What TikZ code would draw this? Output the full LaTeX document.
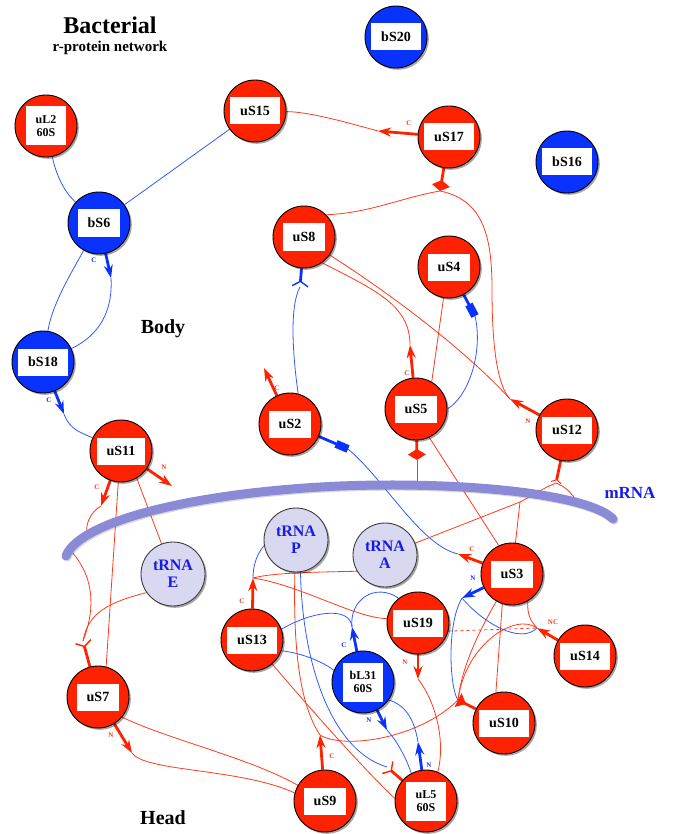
\documentclass[tikz,border=0pt]{standalone}
\usepackage{fontspec}
\setmainfont{Liberation Serif}
\usetikzlibrary{arrows.meta,shadows}
\definecolor{pred}{HTML}{FF2200}
\definecolor{lred}{HTML}{FF3A1A}
\definecolor{pblue}{HTML}{0A32FF}
\definecolor{lblue}{HTML}{2E5BFF}
\definecolor{tfill}{HTML}{D8D8F0}
\definecolor{tdraw}{HTML}{3C3C3C}
\definecolor{tblue}{HTML}{1A1AE6}
\definecolor{mrnacol}{HTML}{8A8AD6}
\pgfdeclarelayer{edges}
\pgfdeclarelayer{rna}
\pgfsetlayers{edges,rna,main}
\newcommand\mkprot[4]{\node[#4] (#1) at (#2) {};\node[lab] at (#1) {#3};}
\newcommand\mkprotII[4]{\node[#4] (#1) at (#2) {};\node[labII] at (#1) {#3};}
\begin{document}
\begin{tikzpicture}[x=1pt,y=-1pt,
  pcirc/.style={circle,draw=black,line width=0.9pt,minimum size=62pt,inner sep=0pt,
     drop shadow={shadow xshift=1.8pt,shadow yshift=-1.8pt,opacity=0.35,fill=black}},
  redp/.style={pcirc,fill=pred},
  bluep/.style={pcirc,fill=pblue},
  trna/.style={pcirc,fill=tfill,draw=tdraw,minimum size=64pt,text=tblue,align=center,
     font=\fontsize{16}{17}\selectfont\bfseries},
  lab/.style={fill=white,inner xsep=10pt,inner ysep=0pt,minimum height=27pt,
     font=\fontsize{14}{14}\selectfont\bfseries},
  labII/.style={fill=white,inner xsep=3pt,inner ysep=0pt,minimum height=39pt,minimum width=40pt,
     align=center,font=\fontsize{12}{13}\selectfont\bfseries},
  rl/.style={draw=lred,line width=0.8pt},
  bl/.style={draw=lblue,line width=0.8pt},
  rstub/.style={draw=pred,line width=2.8pt,-{Stealth[length=13pt,width=9pt]}},
  bstub/.style={draw=pblue,line width=2.8pt,-{Stealth[length=13pt,width=9pt]}},
  rbarb/.style={draw=pred,line width=2.8pt,-{Straight Barb[reversed,length=5pt,width=16pt,line width=1.4pt]}},
  bbarb/.style={draw=pblue,line width=2.8pt,-{Straight Barb[reversed,length=5pt,width=16pt,line width=1.4pt]}},
  rdiam/.style={draw=pred,line width=2.8pt,-{Turned Square[length=11pt,width=18pt]}},
  brect/.style={draw=pblue,line width=2.8pt,-{Rectangle[length=13pt,width=8pt]}},
  rtri/.style={draw=pred,line width=2.8pt,-{Triangle[reversed,length=9pt,width=15pt]}},
  rfork/.style={draw=pred,line width=2.8pt,-{Straight Barb[reversed,length=3pt,width=10pt,line width=0.9pt]}},
  tl/.style={inner sep=0pt,text=lred,font=\fontsize{7}{7}\selectfont\bfseries},
  tlb/.style={inner sep=0pt,text=pblue,font=\fontsize{7}{7}\selectfont\bfseries},
  big/.style={inner sep=0pt,font=\fontsize{#1}{#1}\selectfont\bfseries}
]
\useasboundingbox (0,0) rectangle (675,834);

% titles
\node[big=24] (t1) at (110,25) {Bacterial};
\node[big=15] (t2) at (110,48) {r-protein network};
\node[big=20] (body) at (163,329) {Body};
\node[big=20] (head) at (163,818) {Head};
\node[big=17,text=tblue] (mrnalab) at (630,493) {mRNA};

% proteins
\mkprotII{uL2}{46,126}{uL2\\60S}{redp}
\mkprot{uS15}{255,111}{uS15}{redp}
\mkprot{bS6}{99,223}{bS6}{bluep}
\mkprot{bS20}{396,37}{bS20}{bluep}
\mkprot{uS17}{449,137}{uS17}{redp}
\mkprot{bS16}{567,162}{bS16}{bluep}
\mkprot{uS8}{304,237}{uS8}{redp}
\mkprot{uS4}{449,267}{uS4}{redp}
\mkprot{bS18}{43,362}{bS18}{bluep}
\mkprot{uS11}{121,451}{uS11}{redp}
\mkprot{uS2}{290,424}{uS2}{redp}
\mkprot{uS5}{416,409}{uS5}{redp}
\mkprot{uS12}{567,430}{uS12}{redp}
\node[trna] (tRNAP) at (296,540) {\bfseries tRNA\\\bfseries P};
\node[trna] (tRNAA) at (385,555) {\bfseries tRNA\\\bfseries A};
\node[trna] (tRNAE) at (173,574) {\bfseries tRNA\\\bfseries E};
\mkprot{uS3}{512,574}{uS3}{redp}
\mkprot{uS13}{252,640}{uS13}{redp}
\mkprot{uS19}{418,623}{uS19}{redp}
\mkprot{uS14}{585,656}{uS14}{redp}
\mkprotII{bL31}{363,682}{bL31\\60S}{bluep}
\mkprot{uS10}{504,723}{uS10}{redp}
\mkprotII{uL5}{426,801}{uL5\\60S}{redp}
\mkprot{uS7}{98,697}{uS7}{redp}
\mkprot{uS9}{325,801}{uS9}{redp}

% stub tips and junctions
\coordinate (bS6C) at (111,278);
\coordinate (bS18C) at (64,414);
\coordinate (uS17C) at (378,131);
\coordinate (J17) at (440,191);
\coordinate (J12N) at (510,399);
\coordinate (uS5C) at (410,345);
\coordinate (uS4R) at (475,316);
\coordinate (uS8B) at (300,287);
\coordinate (uS2C) at (264,368);
\coordinate (uS2R) at (348,449);
\coordinate (uS3C) at (458,554);
\coordinate (uS5D) at (417,460);
\coordinate (m5) at (417,487);
\coordinate (J12) at (556,483);
\coordinate (P12) at (520,502);
\coordinate (m12) at (577,501);
\coordinate (uS11C) at (101,506);
\coordinate (m11) at (88,534);
\coordinate (uS11N) at (172,486);
\coordinate (uS7B) at (83,641);
\coordinate (mL) at (72,552);
\coordinate (uS7N) at (132,753);
\coordinate (uS9C) at (320,735);
\coordinate (J10) at (458,700);
\coordinate (uS14NC) at (537,628);
\coordinate (uS3N) at (462,598);
\coordinate (uS19N) at (418,679);
\coordinate (uS13C) at (253,578);
\coordinate (bL31C) at (352,627);
\coordinate (uL5B) at (387,767);
\coordinate (bL31N) at (387,730);
\coordinate (uL5N) at (418,742);

% mRNA
\begin{pgfonlayer}{rna}
\draw[line width=9pt,line cap=round,draw=black,opacity=0.15,xshift=1.2pt,yshift=-1.2pt]
  (66,556) .. controls (80,520) and (200,492) .. (340,486) .. controls (470,481) and (590,495) .. (613,519);
\draw[line width=9pt,line cap=round,draw=mrnacol]
  (66,556) .. controls (80,520) and (200,492) .. (340,486) .. controls (470,481) and (590,495) .. (613,519);
\end{pgfonlayer}

\begin{pgfonlayer}{edges}
% blue top-left
\draw[bl] (uL2) .. controls (55,170) and (62,190) .. (bS6);
\draw[bl] (uS15) -- (bS6);
\draw[bstub] (bS6) -- (bS6C);
\draw[bl] (bS6C) .. controls (113,310) and (100,335) .. (bS18);
\draw[bl] (bS6) .. controls (70,275) and (52,305) .. (bS18);
\draw[bstub] (bS18) -- (bS18C);
\draw[bl] (bS18C) .. controls (70,430) and (80,432) .. (uS11);
% uS17
\draw[rstub] (uS17) -- (uS17C);
\draw[rl] (uS17C) .. controls (345,122) and (310,112) .. (uS15);
\draw[rdiam] (uS17) -- (J17);
\draw[rl] (J17) .. controls (400,198) and (370,213) .. (uS8.45);
\draw[rl] (J17) .. controls (485,200) and (492,240) .. (492,290) .. controls (492,345) and (497,385) .. (J12N);
% uS8, uS12
\draw[rstub] (uS12) -- (J12N);
\draw[rl] (uS8.-35) .. controls (400,300) and (470,355) .. (J12N);
\draw[rl] (uS8.-55) .. controls (375,290) and (410,305) .. (uS5C);
\draw[rstub] (uS5) -- (uS5C);
% uS4
\draw[brect] (uS4) -- (uS4R);
\draw[bl] (uS4R) .. controls (483,350) and (470,395) .. (uS5.east);
\draw[rl] (uS4.-100) -- (uS5.60);
% uS2
\draw[bbarb] (uS8) -- (uS8B);
\draw[bl] (uS2.75) .. controls (292,350) and (290,305) .. (uS8B);
\draw[rstub] (uS2) -- (uS2C);
\draw[brect] (uS2) -- (uS2R);
\draw[bl] (uS2R) .. controls (385,480) and (420,545) .. (uS3C);
\draw[rstub] (uS3) -- (uS3C);
% uS5
\draw[rdiam] (uS5) -- (uS5D);
\draw[rl] (uS5D) -- (m5);
\draw[rl] (uS5.-65) -- (uS3.115);
% uS12 lower
\draw[rfork] (uS12) -- (J12);
\draw[rl] (J12) .. controls (545,487) and (530,497) .. (P12);
\draw[rl] (J12) .. controls (566,487) and (570,492) .. (m12);
\draw[rl] (P12) -- (tRNAA);
\draw[rl] (P12) -- (uS3);
% uS11
\draw[rstub] (uS11) -- (uS11C);
\draw[rl] (uS11C) .. controls (90,512) and (84,527) .. (m11);
\draw[rstub] (uS11) -- (uS11N);
\draw[rl] (uS11.-95) -- (uS7.75);
\draw[rl] (uS11.-60) -- (tRNAE);
% uS7
\draw[rbarb] (uS7) -- (uS7B);
\draw[rl] (mL) .. controls (92,575) and (97,605) .. (uS7B);
\draw[rl] (tRNAE.-145) .. controls (110,602) and (88,612) .. (uS7B);
\draw[rstub] (uS7) -- (uS7N);
\draw[rl] (uS7N) .. controls (145,772) and (240,768) .. (uS9.165);
\draw[rl] (uS7.-40) .. controls (170,740) and (250,758) .. (uS9.150);
% uS9
\draw[rstub] (uS9) -- (uS9C);
\draw[rl] (tRNAP.-92) .. controls (293,650) and (300,705) .. (uS9C);
\draw[bl] (tRNAP.-82) .. controls (302,660) and (330,750) .. (uL5B);
\draw[rl] (uS9C) .. controls (345,750) and (420,738) .. (J10);
% uS10, uS3, uS14
\draw[rtri] (uS10) -- (J10);
\draw[rl] (uS3.-120) .. controls (480,630) and (462,665) .. (J10);
\draw[rl] (uS3.-108) -- (uS10.105);
\draw[rstub] (uS14) -- (uS14NC);
\draw[rl] (J10) .. controls (465,645) and (515,612) .. (uS14NC);
\draw[rl] (uS3.-60) .. controls (527,617) and (532,622) .. (uS14NC);
\draw[rl,dashed] (uS19.-15) -- (uS14NC);
\draw[bstub] (uS3) -- (uS3N);
\draw[bl] (uS3N) .. controls (482,622) and (520,645) .. (uS14NC);
\draw[bl] (uS3N) .. controls (446,625) and (450,690) .. (J10);
% uS19
\draw[rstub] (uS19) -- (uS19N);
\draw[rl] (uS19N) .. controls (438,705) and (445,745) .. (uL5.68);
% uS13
\draw[rstub] (uS13) -- (uS13C);
\draw[rl] (uS13C) .. controls (275,572) and (330,572) .. (tRNAA.-150);
\draw[rl] (uS13C) .. controls (300,585) and (355,618) .. (uS19.172);
\draw[bl] (tRNAP.-170) .. controls (256,555) and (253,567) .. (uS13C);
\draw[bl] (uS13.20) .. controls (310,612) and (350,605) .. (bL31C);
\draw[bstub] (bL31) -- (bL31C);
\draw[bl] (bL31C) .. controls (349,600) and (375,582) .. (uS19.128);
\draw[bl] (uS13.-20) .. controls (300,653) and (320,660) .. (bL31.158);
\draw[rl] (uS13.-50) .. controls (320,720) and (365,770) .. (uL5.175);
% uL5, bL31
\draw[rbarb] (uL5) -- (uL5B);
\draw[bstub] (bL31) -- (bL31N);
\draw[bstub] (uL5) -- (uL5N);
\draw[bl] (bL31N) .. controls (398,742) and (407,760) .. (uL5.118);
\draw[bl] (uL5N) .. controls (414,718) and (405,705) .. (bL31.-35);
\end{pgfonlayer}

% terminus labels
\node[tlb] (lc1) at (94,260) {C};
\node[tlb] (lc2) at (49,400) {C};
\node[tl] (lc3) at (409,123) {C};
\node[tl] (lc4) at (407,373) {C};
\node[tl] (lc5) at (277,388) {C};
\node[tl] (lc6) at (472,549) {C};
\node[tlb] (ln1) at (473,578) {N};
\node[tl] (lc7) at (97,487) {C};
\node[tl] (ln2) at (164,467) {N};
\node[tl] (ln3) at (111,735) {N};
\node[tl] (lc8) at (332,756) {C};
\node[tl] (lc9) at (242,601) {C};
\node[tlb] (lc10) at (344,645) {C};
\node[tl] (ln4) at (405,662) {N};
\node[tlb] (ln5) at (369,720) {N};
\node[tlb] (ln6) at (429,765) {N};
\node[tl] (lnc) at (553,622) {NC};
\node[tl] (ln7) at (528,421) {N};
\end{tikzpicture}
\end{document}
